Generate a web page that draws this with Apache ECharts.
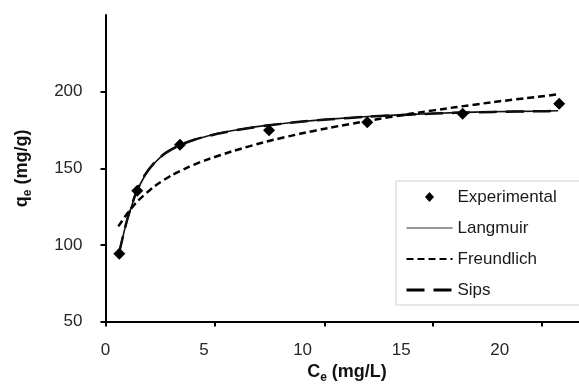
<!DOCTYPE html>
<html>
<head>
<meta charset="utf-8">
<script src="https://cdn.jsdelivr.net/npm/echarts@6/dist/echarts.min.js"></script>
<style>
html,body{margin:0;padding:0;background:#fff;}
#c{width:579px;height:389px;}
</style>
</head>
<body>
<div id="c"></div>
<script>
// Data
const ce = [0.70, 1.61, 3.78, 8.30, 13.28, 18.12, 23.02];
const qeExperimental = [94.2, 135.4, 165.3, 174.9, 180.1, 185.6, 192.1];

const ceLangmuir = [0.68, 0.99, 1.24, 1.58, 1.99, 2.49, 3.02, 3.78, 4.54, 5.05, 5.81, 6.99, 8.18, 9.87, 11.39, 13.33, 15.54, 17.73, 19.68, 21.88, 22.97];
const qeLangmuir = [94.7, 111.0, 122.0, 134.5, 145.0, 153.5, 159.5, 165.0, 168.8, 170.6, 173.0, 175.8, 178.0, 180.4, 182.1, 183.8, 185.2, 186.3, 186.9, 187.3, 187.5];

const ceSips = [0.68, 0.99, 1.24, 1.58, 1.99, 2.49, 3.02, 3.78, 4.54, 5.05, 5.81, 6.99, 8.18, 9.87, 11.39, 13.33, 15.54, 17.73, 19.68, 21.88, 22.97];
const qeSips = [94.2, 111.2, 122.5, 135.0, 145.5, 153.8, 159.8, 165.2, 168.8, 170.6, 172.9, 175.7, 177.9, 180.3, 182.0, 183.7, 185.1, 186.2, 186.8, 187.2, 187.4];

const ceFreundlich = [0.65, 1.16, 1.66, 2.51, 3.36, 4.20, 5.05, 6.48, 8.18, 9.87, 11.39, 13.33, 15.54, 17.73, 19.68, 21.88, 22.86];
const qeFreundlich = [112.1, 121.5, 129.0, 138.5, 145.5, 150.8, 155.2, 161.3, 167.5, 172.5, 176.5, 181.0, 185.7, 189.8, 193.2, 196.6, 198.1];

const xTickLabels = [0, 5, 10, 15, 20];
const xTickMarks = [0, 5.55, 11.1, 16.63, 22.16];
const yTickLabels = [50, 100, 150, 200];

const pairs = (xs, ys) => xs.map((x, i) => [x, ys[i]]);

const FONT = 'Liberation Sans, Arial, sans-serif';
const chart = echarts.init(document.getElementById('c'), null, {renderer: 'canvas'});
chart.setOption({
  animation: false,
  backgroundColor: '#ffffff',
  grid: {left: 105.5, right: 0.5, top: 15, bottom: 67.4, containLabel: false},
  xAxis: {
    type: 'value', min: 0, max: 24,
    name: '{b|C}{s|e}{b| (mg/L)}',
    nameLocation: 'middle', nameGap: 38,
    nameTextStyle: {
      padding: [0, 0, 0, 10],
      rich: {
        b: {fontFamily: FONT, fontSize: 18, fontWeight: 'bold', color: '#111', lineHeight: 22},
        s: {fontFamily: FONT, fontSize: 12, fontWeight: 'bold', color: '#111', lineHeight: 22, verticalAlign: 'bottom', padding: [8, 0, 0, 0]}
      }
    },
    axisLine: {show: true, onZero: false, lineStyle: {color: '#000', width: 2}},
    axisTick: {show: true, inside: false, length: 5, customValues: xTickMarks, lineStyle: {color: '#000', width: 2}},
    axisLabel: {customValues: xTickLabels, margin: 20, fontFamily: FONT, fontSize: 17, color: '#262626'},
    splitLine: {show: false}
  },
  yAxis: {
    type: 'value', min: 50, max: 250, interval: 50,
    name: '{b|q}{s|e}{b| (mg/g)}',
    nameLocation: 'middle', nameGap: 72, nameRotate: 90,
    nameTextStyle: {
      rich: {
        b: {fontFamily: FONT, fontSize: 18, fontWeight: 'bold', color: '#111', lineHeight: 22},
        s: {fontFamily: FONT, fontSize: 12, fontWeight: 'bold', color: '#111', lineHeight: 22, verticalAlign: 'bottom', padding: [8, 0, 0, 0]}
      }
    },
    axisLine: {show: true, onZero: false, lineStyle: {color: '#000', width: 2}},
    axisTick: {show: true, inside: false, length: 5, customValues: yTickLabels, lineStyle: {color: '#000', width: 2}},
    axisLabel: {customValues: yTickLabels, margin: 23, fontFamily: FONT, fontSize: 17, color: '#262626'},
    splitLine: {show: false}
  },
  legend: {
    orient: 'vertical',
    left: 396, top: 181,
    padding: [6, 40, 5, 9],
    itemWidth: 46, itemHeight: 10, itemGap: 11,
    backgroundColor: '#fff',
    borderColor: '#cfcfcf', borderWidth: 1, borderRadius: 0,
    textStyle: {fontFamily: FONT, fontSize: 17, color: '#1a1a1a', lineHeight: 20},
    data: [
      {name: 'Experimental', icon: 'path://M0,0M46,10M23,0L27.5,5L23,10L18.5,5Z', itemStyle: {color: '#000'}},
      {name: 'Langmuir', itemStyle: {opacity: 0}, lineStyle: {width: 1, color: '#333'}},
      {name: 'Freundlich', itemStyle: {opacity: 0}, lineStyle: {width: 2, color: '#000'}},
      {name: 'Sips', itemStyle: {opacity: 0}, lineStyle: {width: 3, color: '#000'}}
    ]
  },
  series: [
    {
      name: 'Sips', type: 'line', data: pairs(ceSips, qeSips),
      symbol: 'none', smooth: 0.2,
      lineStyle: {color: '#000', width: 2.5, type: [18, 9]}, z: 2
    },
    {
      name: 'Langmuir', type: 'line', data: pairs(ceLangmuir, qeLangmuir),
      symbol: 'none', smooth: 0.2,
      lineStyle: {color: '#111', width: 1.6, type: 'solid'}, z: 3
    },
    {
      name: 'Freundlich', type: 'line', data: pairs(ceFreundlich, qeFreundlich),
      symbol: 'none', smooth: 0.2,
      lineStyle: {color: '#000', width: 2.5, type: [7, 4]}, z: 3
    },
    {
      name: 'Experimental', type: 'scatter', data: pairs(ce, qeExperimental),
      symbol: 'diamond', symbolSize: 12,
      itemStyle: {color: '#000', opacity: 1}, z: 5
    }
  ]
});
</script>
</body>
</html>
